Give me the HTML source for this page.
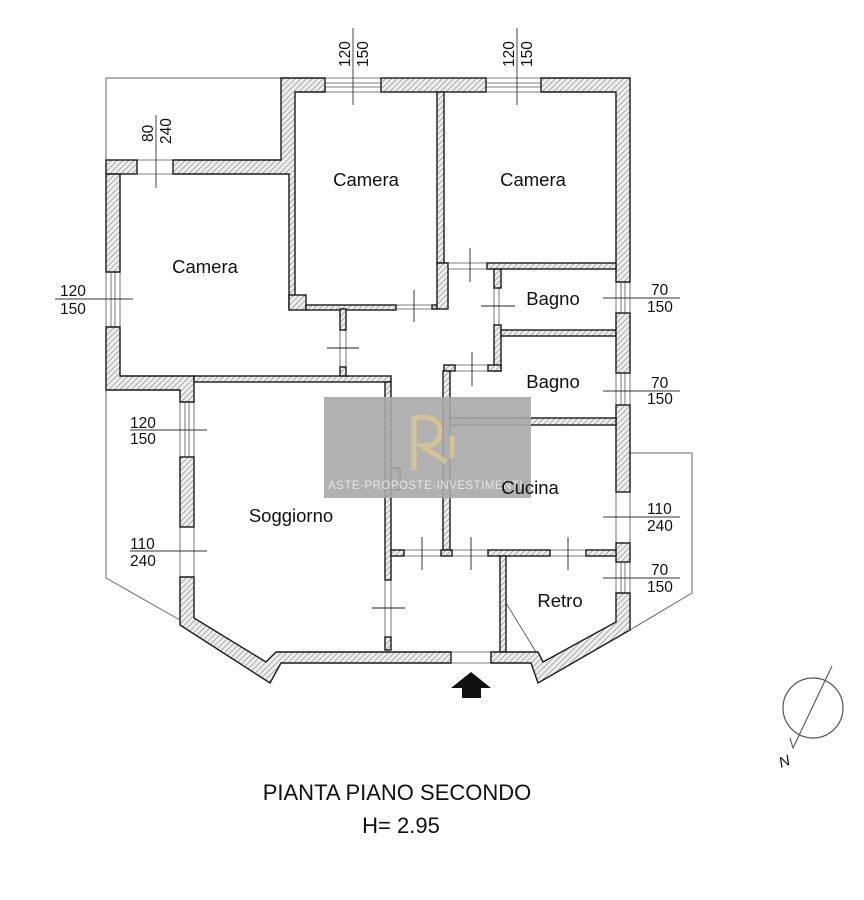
<!DOCTYPE html>
<html><head><meta charset="utf-8"><style>
html,body{margin:0;padding:0;background:#fff;}
svg{display:block;}
text{font-family:"Liberation Sans",sans-serif;fill:#111;}
</style></head><body>
<svg width="864" height="900" viewBox="0 0 864 900" xmlns="http://www.w3.org/2000/svg">
<defs>
<pattern id="h" patternUnits="userSpaceOnUse" width="4" height="4" patternTransform="rotate(45)">
<rect width="4" height="4" fill="#eeeeee"/><line x1="0" y1="0" x2="0" y2="4" stroke="#888" stroke-width="1.3"/>
</pattern>
</defs>
<g stroke="#666" stroke-width="1" fill="none">
<polyline points="106,160 106,78 281,78"/>
<polyline points="106,390 106,578 180,620"/>
<polyline points="630,453 692,453 692,593 630,630"/>
</g>
<g stroke="#555" stroke-width="0.8">
<line x1="325" y1="78" x2="381" y2="78"/><line x1="325" y1="83" x2="381" y2="83"/><line x1="325" y1="87" x2="381" y2="87"/><line x1="325" y1="92" x2="381" y2="92"/>
<line x1="486" y1="78" x2="541" y2="78"/><line x1="486" y1="83" x2="541" y2="83"/><line x1="486" y1="87" x2="541" y2="87"/><line x1="486" y1="92" x2="541" y2="92"/>
<line x1="137" y1="160" x2="173" y2="160"/><line x1="137" y1="174" x2="173" y2="174"/>
<line x1="106" y1="272" x2="106" y2="327"/><line x1="111" y1="272" x2="111" y2="327"/><line x1="115" y1="272" x2="115" y2="327"/><line x1="120" y1="272" x2="120" y2="327"/>
<line x1="180" y1="402" x2="180" y2="457"/><line x1="185" y1="402" x2="185" y2="457"/><line x1="189" y1="402" x2="189" y2="457"/><line x1="194" y1="402" x2="194" y2="457"/>
<line x1="180" y1="527" x2="180" y2="577"/><line x1="194" y1="527" x2="194" y2="577"/>
<line x1="616" y1="282" x2="616" y2="313"/><line x1="621" y1="282" x2="621" y2="313"/><line x1="625" y1="282" x2="625" y2="313"/><line x1="630" y1="282" x2="630" y2="313"/>
<line x1="616" y1="373" x2="616" y2="405"/><line x1="621" y1="373" x2="621" y2="405"/><line x1="625" y1="373" x2="625" y2="405"/><line x1="630" y1="373" x2="630" y2="405"/>
<line x1="616" y1="492" x2="616" y2="543"/><line x1="630" y1="492" x2="630" y2="543"/>
<line x1="616" y1="562" x2="616" y2="593"/><line x1="621" y1="562" x2="621" y2="593"/><line x1="625" y1="562" x2="625" y2="593"/><line x1="630" y1="562" x2="630" y2="593"/>
<line x1="451" y1="652" x2="491" y2="652"/><line x1="451" y1="663" x2="491" y2="663"/>
<line x1="396" y1="305" x2="432" y2="305"/><line x1="396" y1="309" x2="432" y2="309"/>
<line x1="448" y1="263" x2="487" y2="263"/><line x1="448" y1="269" x2="487" y2="269"/>
<line x1="494" y1="288" x2="494" y2="325"/><line x1="499" y1="288" x2="499" y2="325"/>
<line x1="340" y1="330" x2="340" y2="367"/><line x1="346" y1="330" x2="346" y2="367"/>
<line x1="455" y1="365" x2="491" y2="365"/><line x1="455" y1="371" x2="491" y2="371"/>
<line x1="404" y1="550" x2="441" y2="550"/><line x1="404" y1="556" x2="441" y2="556"/>
<line x1="452" y1="550" x2="488" y2="550"/><line x1="452" y1="556" x2="488" y2="556"/>
<line x1="550" y1="550" x2="586" y2="550"/><line x1="550" y1="556" x2="586" y2="556"/>
<line x1="385" y1="580" x2="385" y2="637"/><line x1="391" y1="580" x2="391" y2="637"/>
</g>
<g fill="url(#h)" stroke="#1a1a1a" stroke-width="1.4">
<polygon points="281,78 325,78 325,92 295,92 295,309 289,309 289,174 173,174 173,160 281,160"/>
<rect x="381" y="78" width="105" height="14"/>
<polygon points="541,78 630,78 630,282 616,282 616,92 541,92"/>
<rect x="106" y="160" width="31" height="14"/>
<polygon points="106,174 120,174 120,272 106,272"/>
<polygon points="106,327 120,327 120,376 194,376 194,402 180,402 180,390 106,390"/>
<rect x="194" y="376" width="197" height="6"/>
<rect x="385" y="382" width="6" height="198"/>
<rect x="385" y="637" width="6" height="13"/>
<rect x="289" y="295" width="17" height="15"/>
<rect x="306" y="305" width="90" height="5"/>
<rect x="432" y="305" width="5" height="4"/>
<rect x="437" y="92" width="7" height="171"/>
<rect x="437" y="263" width="11" height="46"/>
<rect x="340" y="309" width="6" height="21"/>
<rect x="340" y="367" width="6" height="9"/>
<rect x="487" y="263" width="129" height="6"/>
<rect x="494" y="269" width="7" height="19"/>
<rect x="494" y="325" width="7" height="46"/>
<rect x="501" y="330" width="115" height="6"/>
<rect x="616" y="313" width="14" height="60"/>
<rect x="616" y="405" width="14" height="87"/>
<rect x="616" y="543" width="14" height="19"/>
<rect x="444" y="365" width="11" height="6"/>
<rect x="488" y="365" width="13" height="6"/>
<rect x="443" y="371" width="7" height="179"/>
<rect x="450" y="418" width="166" height="7"/>
<rect x="391" y="550" width="13" height="6"/>
<rect x="441" y="550" width="11" height="6"/>
<rect x="488" y="550" width="62" height="6"/>
<rect x="586" y="550" width="30" height="6"/>
<rect x="500" y="556" width="6" height="96"/>
<rect x="391" y="468" width="9" height="22"/>
<rect x="180" y="457" width="14" height="70"/>
<polygon points="180,577 194,577 194,618 266,662 276,652 451,652 451,663 281,663 270,683 180,625"/>
<polygon points="491,652 538,652 543,662 616,622 616,593 630,593 630,630 538,683 531,663 491,663"/>
</g>
<line x1="506" y1="603" x2="536" y2="652" stroke="#444" stroke-width="0.8"/>
<g stroke="#222" stroke-width="0.9">
<line x1="414" y1="290" x2="414" y2="322"/>
<line x1="470" y1="248" x2="470" y2="282"/>
<line x1="481" y1="306" x2="515" y2="306"/>
<line x1="327" y1="348" x2="359" y2="348"/>
<line x1="472" y1="352" x2="472" y2="386"/>
<line x1="422" y1="537" x2="422" y2="570"/>
<line x1="471" y1="537" x2="471" y2="570"/>
<line x1="568" y1="537" x2="568" y2="570"/>
<line x1="372" y1="608" x2="405" y2="608"/>
</g>
<g stroke="#333" stroke-width="0.9">
<line x1="353" y1="28" x2="353" y2="105"/>
<line x1="517" y1="28" x2="517" y2="105"/>
<line x1="156" y1="115" x2="156" y2="188"/>
<line x1="55" y1="299" x2="133" y2="299"/>
<line x1="130" y1="430" x2="207" y2="430"/>
<line x1="130" y1="551" x2="207" y2="551"/>
<line x1="603" y1="298" x2="680" y2="298"/>
<line x1="603" y1="391" x2="680" y2="391"/>
<line x1="603" y1="517" x2="680" y2="517"/>
<line x1="603" y1="578" x2="680" y2="578"/>
</g>
<g font-size="15.5">
<text transform="translate(350,67) rotate(-90)">120</text>
<text transform="translate(368,67) rotate(-90)">150</text>
<text transform="translate(514,67) rotate(-90)">120</text>
<text transform="translate(532,67) rotate(-90)">150</text>
<text transform="translate(153,142) rotate(-90)">80</text>
<text transform="translate(171,144) rotate(-90)">240</text>
<text x="60" y="296">120</text><text x="60" y="314">150</text>
<text x="130" y="428">120</text><text x="130" y="444">150</text>
<text x="130" y="549">110</text><text x="130" y="566">240</text>
<text x="651" y="295">70</text><text x="647" y="312">150</text>
<text x="651" y="388">70</text><text x="647" y="404">150</text>
<text x="647" y="514">110</text><text x="647" y="531">240</text>
<text x="651" y="575">70</text><text x="647" y="592">150</text>
</g>
<g font-size="18.5" text-anchor="middle">
<text x="366" y="186">Camera</text>
<text x="533" y="186">Camera</text>
<text x="205" y="273">Camera</text>
<text x="553" y="305">Bagno</text>
<text x="553" y="388">Bagno</text>
<text x="291" y="522">Soggiorno</text>
<text x="560" y="607">Retro</text>
</g>
<rect x="324" y="397" width="207" height="101" fill="#a9a9a9" opacity="0.9"/>
<g fill="none" stroke="#d8c690" stroke-width="5" opacity="0.9">
<path d="M414 470 L414 418 Q440 414 440 432 Q440 446 422 446 L446 462"/>
<line x1="452" y1="436" x2="452" y2="458"/>
</g>
<text x="328" y="489" font-family="Liberation Serif,serif" font-size="11.5" style="fill:#e6e6e6;letter-spacing:0.5px">ASTE·PROPOSTE·INVESTIMENTI</text>
<text x="530" y="494" font-size="18.5" text-anchor="middle">Cucina</text>
<polygon points="471,672 491,688 481,688 481,698 462,698 462,688 451,688" fill="#111"/>
<circle cx="813" cy="708" r="30" fill="none" stroke="#555" stroke-width="1.2"/>
<polyline points="832,666 793,748 790,738" fill="none" stroke="#555" stroke-width="1.1"/>
<text transform="translate(781,768) rotate(-20)" font-size="15" font-style="italic">N</text>
<text x="397" y="800" font-size="22" text-anchor="middle">PIANTA PIANO SECONDO</text>
<text x="401" y="833" font-size="22" text-anchor="middle">H= 2.95</text>
</svg>
</body></html>
